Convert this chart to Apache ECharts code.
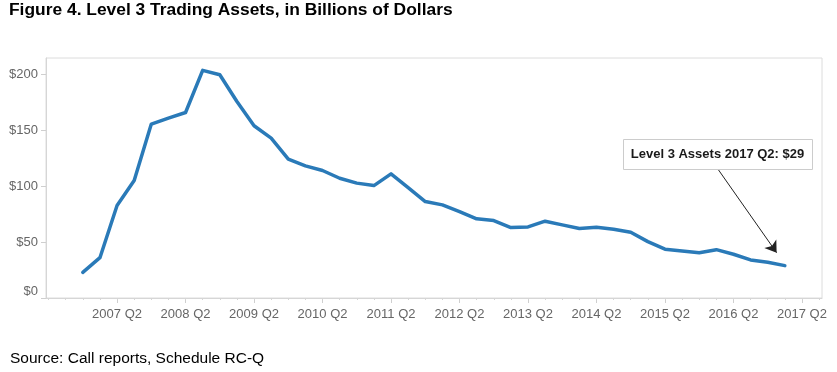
<!DOCTYPE html>
<html><head><meta charset="utf-8">
<script src="https://cdn.jsdelivr.net/npm/echarts@6/dist/echarts.min.js"></script>
<style>html,body{margin:0;padding:0;background:#fff}#c{width:837px;height:372px}</style>
</head><body><div id="c"></div>
<script>
// Quarters (point placed at the start of its quarter)
const quarters = [];
for (let y = 2007; y <= 2017; y++) for (let q = 1; q <= 4; q++) { if (y === 2017 && q > 2) break; quarters.push(y + ' Q' + q); }
// Level 3 trading assets, billions of dollars
const level3Assets = [23.0,36.1,82.8,105.2,155.8,161.2,166.2,203.9,200.0,176.0,154.3,143.2,124.4,118.4,114.2,107.3,102.9,100.7,111.2,98.9,86.4,83.4,77.4,70.9,69.4,63.1,63.7,68.8,65.5,62.2,63.4,61.6,58.9,50.5,43.7,42.2,40.6,43.3,39.2,34.1,32.0,29.0];
const xTickLabels = ['2007 Q2','2008 Q2','2009 Q2','2010 Q2','2011 Q2','2012 Q2','2013 Q2','2014 Q2','2015 Q2','2016 Q2','2017 Q2'];
const yTickValues = [0,50,100,150,200];
const titleText = 'Figure 4. Level 3 Trading Assets, in Billions of Dollars';
const sourceText = 'Source: Call reports, Schedule RC-Q';

// tick for a quarter label sits at the end of that quarter
const xTickPos = xTickLabels.map(l => quarters.indexOf(l) + 1);
const posToLabel = {}; xTickPos.forEach((p, i) => posToLabel[p] = xTickLabels[i]);
const minorPos = []; for (let i = -2; i <= 43; i++) minorPos.push(i);
const lastIdx = level3Assets.length - 1;
const lastVal = level3Assets[lastIdx];
const annText = 'Level 3 Assets ' + quarters[lastIdx] + ': $' + Math.round(lastVal);

const chart = echarts.init(document.getElementById('c'), null, {renderer: 'canvas'});
const xMin = -2.15, xMax = 43.17;
chart.setOption({
  animation: false,
  backgroundColor: '#fff',
  title: [
    {text: titleText, left: 9, top: 2, padding: 0,
     textStyle: {fontFamily: 'Liberation Sans, Arial, sans-serif', fontSize: 17.4, fontWeight: 'bold', color: '#000'}},
    {text: sourceText, left: 10, top: 351, padding: 0,
     textStyle: {fontFamily: 'Liberation Sans, Arial, sans-serif', fontSize: 15.5, fontWeight: 'normal', color: '#000'}}
  ],
  grid: {left: 46, right: 15, top: 58, bottom: 74, show: true, borderColor: '#dcdcdc', borderWidth: 1, containLabel: false},
  xAxis: [
    {type: 'value', min: xMin, max: xMax, position: 'bottom',
     axisLine: {show: true, onZero: false, lineStyle: {color: '#d6d6d6'}},
     axisTick: {show: true, customValues: xTickPos, length: 5, lineStyle: {color: '#cfcfcf'}},
     axisLabel: {customValues: xTickPos, formatter: v => posToLabel[v] || '', margin: 10,
       fontFamily: 'Liberation Sans, Arial, sans-serif', fontSize: 13, color: '#666'},
     splitLine: {show: false}},
    {type: 'value', min: xMin, max: xMax, position: 'bottom', offset: 0,
     axisLine: {show: false},
     axisTick: {show: true, customValues: minorPos, length: 2, lineStyle: {color: '#d6d6d6'}},
     axisLabel: {show: false}, splitLine: {show: false}}
  ],
  yAxis: {type: 'value', min: 0, max: 215,
    axisLine: {show: true, onZero: false, lineStyle: {color: '#d6d6d6'}},
    axisTick: {show: true, customValues: yTickValues, length: 5, lineStyle: {color: '#cfcfcf'}},
    axisLabel: {customValues: yTickValues, formatter: v => '$' + v, margin: 8, verticalAlignMinLabel: 'bottom',
      fontFamily: 'Liberation Sans, Arial, sans-serif', fontSize: 13, color: '#666'},
    splitLine: {show: false}},
  series: [{
    type: 'line', xAxisIndex: 0,
    data: level3Assets.map((v, i) => [i, v]),
    showSymbol: false, symbol: 'none',
    lineStyle: {color: '#2a7ab8', width: 3.5, cap: 'round', join: 'round'},
    markLine: {
      silent: true, symbol: ['none', 'arrow'], symbolSize: 11,
      lineStyle: {color: '#222', width: 1, type: 'solid'},
      itemStyle: {color: '#222'},
      label: {show: false},
      data: [[{coord: [lastIdx - 3.96, lastVal + 87.6]}, {coord: [lastIdx - 0.48, lastVal + 11.6]}]]
    }
  }],
  graphic: [
    {type: 'rect', shape: {x: 623.5, y: 139.5, width: 189, height: 30}, style: {fill: '#fff', stroke: '#cccccc', lineWidth: 1}, z: 100},
    {type: 'text', x: 717.5, y: 154.5, style: {text: annText, align: 'center', verticalAlign: 'middle',
      font: 'bold 13px "Liberation Sans", Arial, sans-serif', fill: '#1a1a1a'}, z: 101}
  ]
});
</script></body></html>
